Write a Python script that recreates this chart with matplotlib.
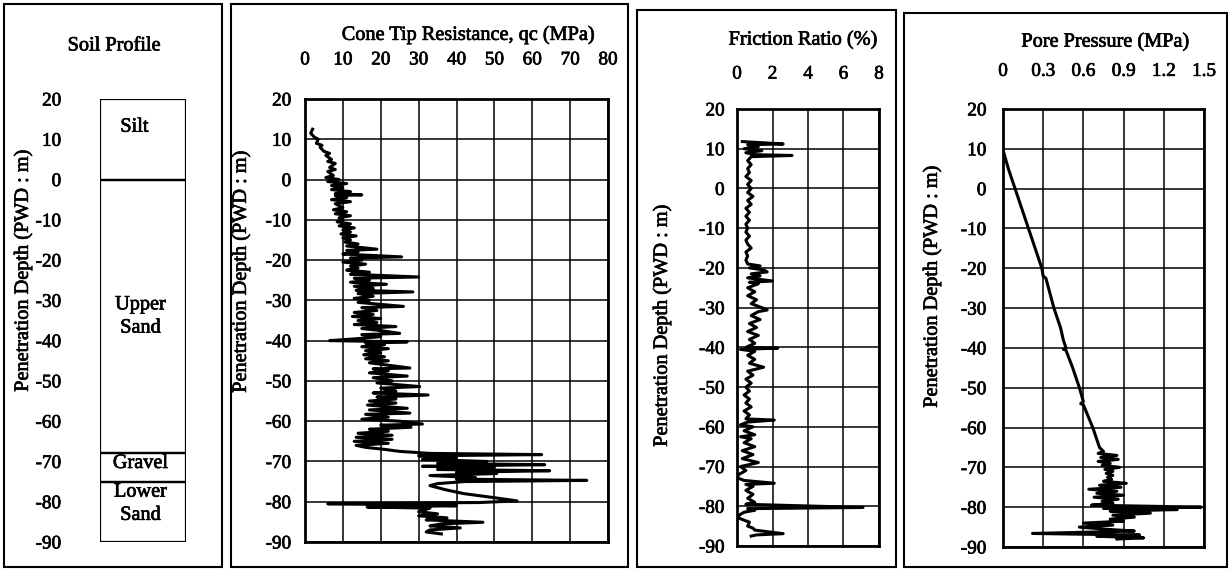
import matplotlib
matplotlib.use("Agg")
import matplotlib.pyplot as plt
from matplotlib.patches import Rectangle
import matplotlib.patheffects as pe

plt.rcParams['font.family'] = ['Liberation Serif', 'DejaVu Serif']
plt.rcParams['axes.unicode_minus'] = False

# ---------------- data ----------------
layer_names = ["Silt", "Upper\nSand", "Gravel", "Lower\nSand"]
layer_tops = [20, 0, -68, -75]
layer_bottoms = [0, -68, -75, -90]
layer_label_depth = [13, -34, -70.5, -80.5]

cone_depth = [12.5, 11.5, 10.5, 10, 9, 8.5, 8, 7, 6.5, 6, 5, 4.5, 4, 3, 2.5, 2, 1, 0.5, 0, -0.5,
              -1, -1.5, -2, -2.5, -3, -3.5, -3.8, -4, -4.5, -5, -5.5, -6, -7, -7.5, -8, -8.5, -9, -9.5,
              -10, -10.5, -11, -11.5, -12, -12.5, -13, -13.5, -14, -14.5, -15, -15.5, -16, -16.5,
              -17.3, -17.6, -18, -18.5, -19.2, -19.5, -20, -20.5, -21, -21.5, -22, -22.5, -23, -23.5,
              -24.2, -24.5, -25, -25.5, -26, -26.5, -27, -27.5, -27.9, -28.3, -29, -29.5, -30, -30.5,
              -31.5, -31.8, -32.5, -33, -33.5, -34, -34.5, -35, -35.5, -36, -36.5, -37, -37.5, -38.2,
              -38.5, -39, -39.5, -40, -40.3, -40.6, -41, -41.5, -42, -42.5, -43, -43.5, -44, -44.5,
              -45, -45.5, -46.8, -47, -47.5, -48, -48.8, -49.2, -50, -50.5, -51.4, -51.8, -52.5, -53,
              -53.5, -54, -54.5, -55, -55.5, -56, -56.8, -57.2, -58, -58.3, -59, -59.5, -60, -60.7,
              -61, -61.5, -62, -62.5, -63, -63.5, -64, -64.5, -65, -65.5, -66, -66.5, -67, -67.5,
              -68, -68.3, -68.6, -69, -69.5, -70, -70.5, -70.8, -71.2, -71.5, -72, -72.3, -72.7, -73,
              -73.5, -74, -74.4, -74.7, -75, -75.5, -76, -77, -78, -78.5, -79, -79.8, -80.2, -80.5,
              -80.8, -81, -81.3, -81.6, -82.5, -83, -83.5, -84, -84.5, -85.1, -85.5, -86, -86.5, -87,
              -87.5, -88]
cone_qc = [2, 1.5, 2.5, 3.5, 3, 4.5, 4, 5, 6.5, 5.5, 7, 6, 8, 6.5, 8, 6, 7.5, 5.5, 9, 6,
           11, 7, 10, 7, 12, 8, 15, 8, 11, 7, 12, 8, 10, 7.5, 11, 8, 12, 9,
           10, 8.5, 12, 9, 13, 10, 12, 9.5, 13.5, 10, 12, 10.5, 14, 11,
           19, 11, 14, 10, 25.5, 12, 15, 10, 16, 12, 14, 11, 17, 12,
           30, 13, 17, 12, 21.5, 13, 18, 13.5, 28.5, 14, 18, 13, 17, 14,
           26, 15, 19, 13, 18, 12.5, 20, 14, 19, 13, 24, 15, 20, 25,
           15, 20, 14, 6.5, 27, 16, 21, 15, 22, 16, 20, 15.5, 21, 16,
           22, 17, 27.7, 18, 22, 17, 27, 18, 23, 19, 30.3, 20, 24, 18,
           32.5, 19, 24, 17, 24, 16.5, 27, 17, 27.7, 16, 22, 15, 25, 31,
           20, 28, 17, 22, 14, 23, 13.5, 23, 13, 22, 13.5, 16, 21, 25,
           33, 62.5, 30, 40, 31, 48, 35, 63.3, 31, 50, 35, 64.6, 40, 50.6,
           33, 45, 40, 74.4, 42, 35, 33, 37, 42, 46, 50, 56, 46, 6,
           30, 40, 16.4, 33, 30, 35, 30, 37.5, 32, 47, 36, 33, 41, 33,
           32, 36]

fr_depth = [11.8, 11.2, 11, 10.5, 10, 9.5, 9, 8.5, 8.3, 8, 7, 6, 5, 4, 3, 2, 1, 0, -1, -2, -3, -4,
            -5, -6, -7, -8, -9, -10, -11, -12, -13, -14, -15, -16, -17, -18, -19, -19.5, -20, -20.5,
            -21, -21.5, -22, -22.5, -23.3, -23.6, -24, -25, -26, -27, -28, -29, -30, -30.6, -31, -32,
            -33, -34, -35, -36, -37, -38, -39, -40, -40.2, -40.5, -41, -42, -43, -44, -45, -46, -47,
            -48, -49, -50, -51, -52, -53, -54, -55, -56, -57, -58, -58.3, -58.8, -59.5, -60, -61, -62,
            -62.5, -63, -64, -65, -66, -67, -68, -69, -70, -71, -72, -72.8, -73.5, -74.2, -74.5, -75,
            -76, -77, -78, -79, -79.5, -80.3, -80.6, -81, -81.5, -82, -82.8, -83.5, -84, -85, -85.5,
            -86, -86.9, -87.2, -87.5]
fr_val = [0.3, 2.6, 0.6, 1.2, 0.4, 1.4, 0.5, 1.0, 3.1, 0.8, 0.6, 0.8, 0.6, 0.7, 0.5, 0.8, 0.6, 0.8, 0.6, 0.9, 0.6, 0.8,
          0.5, 0.7, 0.5, 0.7, 0.5, 0.6, 0.5, 0.7, 0.5, 0.6, 0.8, 0.5, 0.6, 0.5, 0.6, 1.3, 0.7, 1.5,
          1.7, 0.8, 1.3, 0.6, 2.0, 0.7, 1.2, 0.6, 1.0, 0.6, 1.1, 0.8, 1.4, 1.7, 1.2, 0.8,
          1.3, 0.7, 1.1, 0.6, 1.2, 0.7, 1.0, 0.5, 2.3, 0.2, 1.0, 0.6, 1.0, 0.7, 1.5, 0.6, 0.9,
          0.5, 0.8, 0.5, 0.7, 0.4, 0.7, 0.5, 0.8, 0.4, 0.7, 0.5, 2.1, 0.6, 0.2, 0.9, 0.4, 1.0,
          0.2, 0.8, 0.4, 1.0, 0.3, 0.9, 0.3, 1.2, 0.2, 0.5, 0.1, 0.0, 0.4, 2.1, 0.5, 0.9,
          0.5, 0.9, 0.6, 1.0, 0.5, 7.1, 0.6, 1.0, 0.4, 0.2, 0.0, 0.4, 0.7, 0.6, 0.9,
          1.0, 2.6, 1.1, 0.8]

pp_depth = [9.7, 5, 0, -5, -10, -15, -20, -22, -22.5, -25, -30, -35, -38, -40, -40.3, -40.6, -45, -50,
            -53.5, -54, -54.3, -60, -63, -65, -66, -66.5, -67, -67.5, -68, -68.5, -69, -69.5, -70,
            -70.5, -71, -71.5, -72, -72.5, -73, -73.5, -74, -74.5, -75, -75.5, -76, -76.5, -77, -77.5,
            -78, -78.5, -79, -79.5, -80, -80.3, -80.6, -81, -81.5, -82, -82.5, -83, -83.5, -84, -84.5,
            -85, -85.5, -86, -86.3, -86.6, -87, -87.3, -87.7, -88]
pp_val = [0.00, 0.04, 0.09, 0.14, 0.19, 0.24, 0.29, 0.30, 0.32, 0.34, 0.38, 0.43, 0.45, 0.47, 0.45, 0.47, 0.52, 0.57,
          0.60, 0.58, 0.60, 0.67, 0.70, 0.72, 0.75, 0.71, 0.85, 0.73, 0.86, 0.71, 0.80, 0.74, 0.87,
          0.76, 0.82, 0.77, 0.82, 0.78, 0.81, 0.75, 0.92, 0.72, 0.88, 0.64, 0.85, 0.70, 0.90, 0.68,
          0.86, 0.74, 0.82, 0.66, 1.48, 0.75, 1.30, 0.80, 1.10, 0.82, 0.98, 0.80, 0.90, 0.60, 0.82,
          0.57, 0.75, 0.98, 0.60, 0.22, 1.02, 0.70, 1.05, 0.85]

depth_ticks = [20, 10, 0, -10, -20, -30, -40, -50, -60, -70, -80, -90]
cone_ticks = [0, 10, 20, 30, 40, 50, 60, 70, 80]
fr_ticks = [0, 2, 4, 6, 8]
pp_ticks = [0, 0.3, 0.6, 0.9, 1.2, 1.5]
pp_labels = ["0", "0.3", "0.6", "0.9", "1.2", "1.5"]

# ---------------- layout ----------------
W, H = 1231, 573
fig = plt.figure(figsize=(W / 100, H / 100), dpi=100)
fig.patch.set_facecolor("white")

TICK_FS = 13.8
LAB_FS = 14.6
HEAVY = [pe.withStroke(linewidth=0.5, foreground="black")]


def add_ax(x0, y0, x1, y1):
    return fig.add_axes([x0 / W, 1 - y1 / H, (x1 - x0) / W, (y1 - y0) / H])


def frame(x0, y0, x1, y1):
    fig.add_artist(Rectangle((x0 / W, 1 - y1 / H), (x1 - x0) / W, (y1 - y0) / H,
                             transform=fig.transFigure, fill=False, lw=1.5, ec="black"))


def ftext(x, y, s, **kw):
    fig.text(x / W, 1 - y / H, s, ha="center", va="center", path_effects=HEAVY, **kw)


def heavy_ticks(ax):
    for lab in ax.get_xticklabels() + ax.get_yticklabels():
        lab.set_path_effects(HEAVY)


# panel frames
frame(4, 4, 222, 567)
frame(231, 4, 628, 567)
frame(637, 10, 896, 567)
frame(904, 13, 1227, 567)

# ---- panel 1: soil profile ----
ax1 = add_ax(100, 99, 186, 542)
ax1.set_xlim(0, 1)
ax1.set_ylim(-90, 20)
for top, bot in zip(layer_tops, layer_bottoms):
    ax1.add_patch(Rectangle((0, bot), 1, top - bot, fill=False, lw=1.6, ec="black"))
for name, d in zip(layer_names, layer_label_depth):
    xpos = 0.4 if name == "Silt" else 0.47
    ax1.text(xpos, d, name, ha="center", va="center", fontsize=LAB_FS, linespacing=1.3,
             path_effects=HEAVY)
for s in ax1.spines.values():
    s.set_visible(False)
ax1.set_xticks([])
ax1.set_yticks(depth_ticks)
ax1.tick_params(axis="y", length=0, pad=28, labelsize=TICK_FS)
heavy_ticks(ax1)
ftext(114, 46, "Soil Profile", fontsize=LAB_FS)
ftext(23, 271, "Penetration Depth (PWD : m)", rotation=90, fontsize=LAB_FS)


def style_ax(ax, xlim, xticks, xlabels, xpad, ypad):
    ax.set_xlim(*xlim)
    ax.set_ylim(-90, 20)
    ax.set_xticks(xticks)
    ax.set_xticklabels(xlabels)
    ax.set_yticks(depth_ticks)
    ax.xaxis.tick_top()
    ax.tick_params(axis="x", length=0, pad=xpad, labelsize=TICK_FS)
    ax.tick_params(axis="y", length=0, pad=ypad, labelsize=TICK_FS)
    ax.grid(True, color="black", lw=1.1)
    ax.set_axisbelow(True)
    for s in ax.spines.values():
        s.set_linewidth(2.0)
    heavy_ticks(ax)


# ---- panel 2: cone tip resistance ----
ax2 = add_ax(305, 99, 608, 542)
style_ax(ax2, (0, 80), cone_ticks, [str(t) for t in cone_ticks], 22, 10)
ax2.plot(cone_qc, cone_depth, color="black", lw=2.2)
ftext(468, 35, "Cone Tip Resistance, qc (MPa)", fontsize=LAB_FS)
ftext(241, 272, "Penetration Depth (PWD : m)", rotation=90, fontsize=LAB_FS)

# ---- panel 3: friction ratio ----
ax3 = add_ax(737, 109, 879, 546)
style_ax(ax3, (0, 8), fr_ticks, [str(t) for t in fr_ticks], 19, 9)
ax3.plot(fr_val, fr_depth, color="black", lw=2.2)
ftext(803, 40, "Friction Ratio (%)", fontsize=LAB_FS)
ftext(662, 326, "Penetration Depth (PWD : m)", rotation=90, fontsize=LAB_FS)

# ---- panel 4: pore pressure ----
ax4 = add_ax(1003, 109, 1204, 547)
style_ax(ax4, (0, 1.5), pp_ticks, pp_labels, 21, 12)
ax4.plot(pp_val, pp_depth, color="black", lw=2.2)
ftext(1105, 42, "Pore Pressure (MPa)", fontsize=LAB_FS)
ftext(932, 287, "Penetration Depth (PWD : m)", rotation=90, fontsize=LAB_FS)

fig.savefig("out.png", dpi=100, facecolor="white")
